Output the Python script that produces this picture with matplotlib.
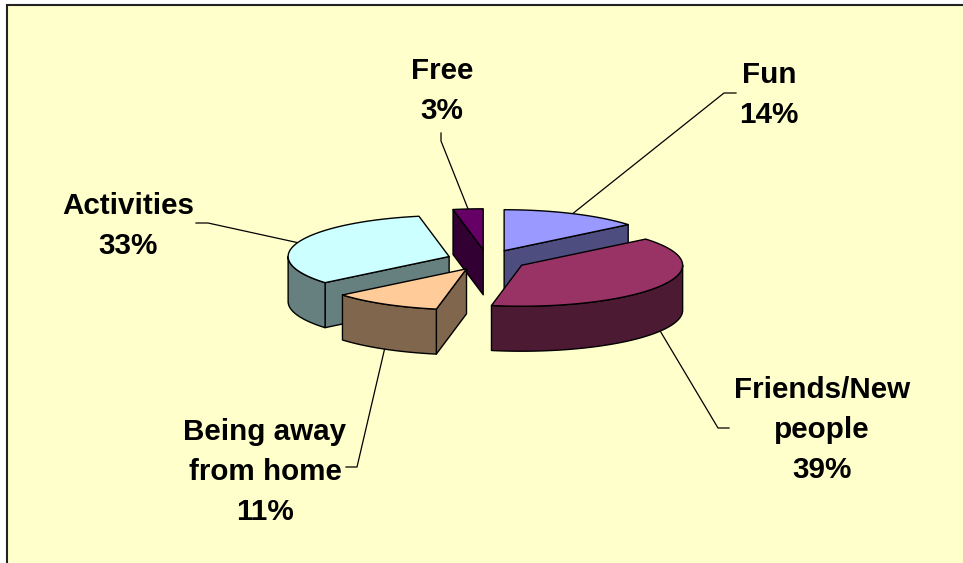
"""Exploded 3D pie chart drawn with plain polygons"""

import numpy as np
import matplotlib
matplotlib.use('Agg')
import matplotlib.pyplot as plt
from matplotlib.patches import Polygon, Rectangle

# Data
categories = ['Fun', 'Friends/New\npeople', 'Being away\nfrom home', 'Activities', 'Free']
values = [14, 39, 11, 33, 3]
top_colors = ['#9999FF', '#993366', '#FFCC99', '#CCFFFF', '#660066']
side_colors = ['#4D4D80', '#4D1A33', '#80664D', '#668080', '#330033']

# label centre and the bend of the leader line, in pixels
label_pos = [(769, 95), (822, 430), (265, 472), (128, 226), (442, 91)]
leader_bend = [(724, 93), (718, 428), (357, 467), (208, 223), (441, 141)]
leader_end = [(736, 93), (729, 428), (346, 467), (196, 223), (441, 133)]

# Pie geometry in pixels
CX, CY = 487, 260
RX, RY = 161, 41
DEPTH = 45
EXPLODE = 0.25
BG = '#FFFFCC'


def rim(apex, angle):
    """Point on the top rim, angle is clockwise from 12 o'clock (radians)"""
    return np.column_stack([apex[0] + RX * np.sin(angle), apex[1] - RY * np.cos(angle)])


def draw_slice(ax, apex, a, b, top, side):
    """Draws the visible faces of one slice: radial faces, wall, then top"""
    style = dict(edgecolor='black', linewidth=1.0, joinstyle='round')
    down = np.array([0, DEPTH])
    apex_pt = np.array(apex)

    # Radial faces that look towards the viewer
    if np.sin(a) < -1e-6:
        p = rim(apex, np.array([a]))[0]
        ax.add_patch(Polygon([apex_pt, p, p + down, apex_pt + down], facecolor=side, **style))
    if np.sin(b) > 1e-6:
        p = rim(apex, np.array([b]))[0]
        ax.add_patch(Polygon([apex_pt, p, p + down, apex_pt + down], facecolor=side, **style))

    # Outer wall, only the front half of the circle
    w0, w1 = max(a, np.pi / 2), min(b, 3 * np.pi / 2)
    if w1 > w0:
        arc = rim(apex, np.linspace(w0, w1, 80))
        ax.add_patch(Polygon(np.vstack([arc, arc[::-1] + down]), facecolor=side, **style))

    # Top face
    arc = rim(apex, np.linspace(a, b, 120))
    ax.add_patch(Polygon(np.vstack([apex_pt, arc]), facecolor=top, **style))


def create_chart():
    fig = plt.figure(figsize=(9.63, 5.63), dpi=100)
    ax = fig.add_axes([0, 0, 1, 1])
    ax.set_xlim(0, 963)
    ax.set_ylim(563, 0)
    ax.axis('off')

    # Panel runs off the right and bottom edges
    ax.add_patch(Rectangle((7, 5), 1000, 600, facecolor=BG, edgecolor='#222222', linewidth=1.5))

    shares = np.array(values) / sum(values) * 2 * np.pi
    ends = np.cumsum(shares)
    starts = ends - shares
    mids = (starts + ends) / 2

    apexes = [(CX + EXPLODE * RX * np.sin(m), CY - EXPLODE * RY * np.cos(m)) for m in mids]

    # Leader lines start on the rim in the middle of each slice
    for i, m in enumerate(mids):
        p = rim(apexes[i], np.array([m]))[0]
        if np.cos(m) < 0:
            p = p + np.array([0, DEPTH])
        xs = [p[0], leader_bend[i][0], leader_end[i][0]]
        ys = [p[1], leader_bend[i][1], leader_end[i][1]]
        ax.plot(xs, ys, color='black', linewidth=0.9, zorder=1)

    # Back to front
    for i in [4, 0, 3, 1, 2]:
        draw_slice(ax, apexes[i], starts[i], ends[i], top_colors[i], side_colors[i])

    for i, name in enumerate(categories):
        pct = round(values[i] / sum(values) * 100)
        ax.text(label_pos[i][0], label_pos[i][1], f'{name}\n{pct}%', ha='center', va='center',
                family='Liberation Sans', fontweight='bold', fontsize=21.3, linespacing=1.55,
                color='black')

    plt.savefig('out.png', dpi=100, facecolor='white')


if __name__ == "__main__":
    create_chart()
